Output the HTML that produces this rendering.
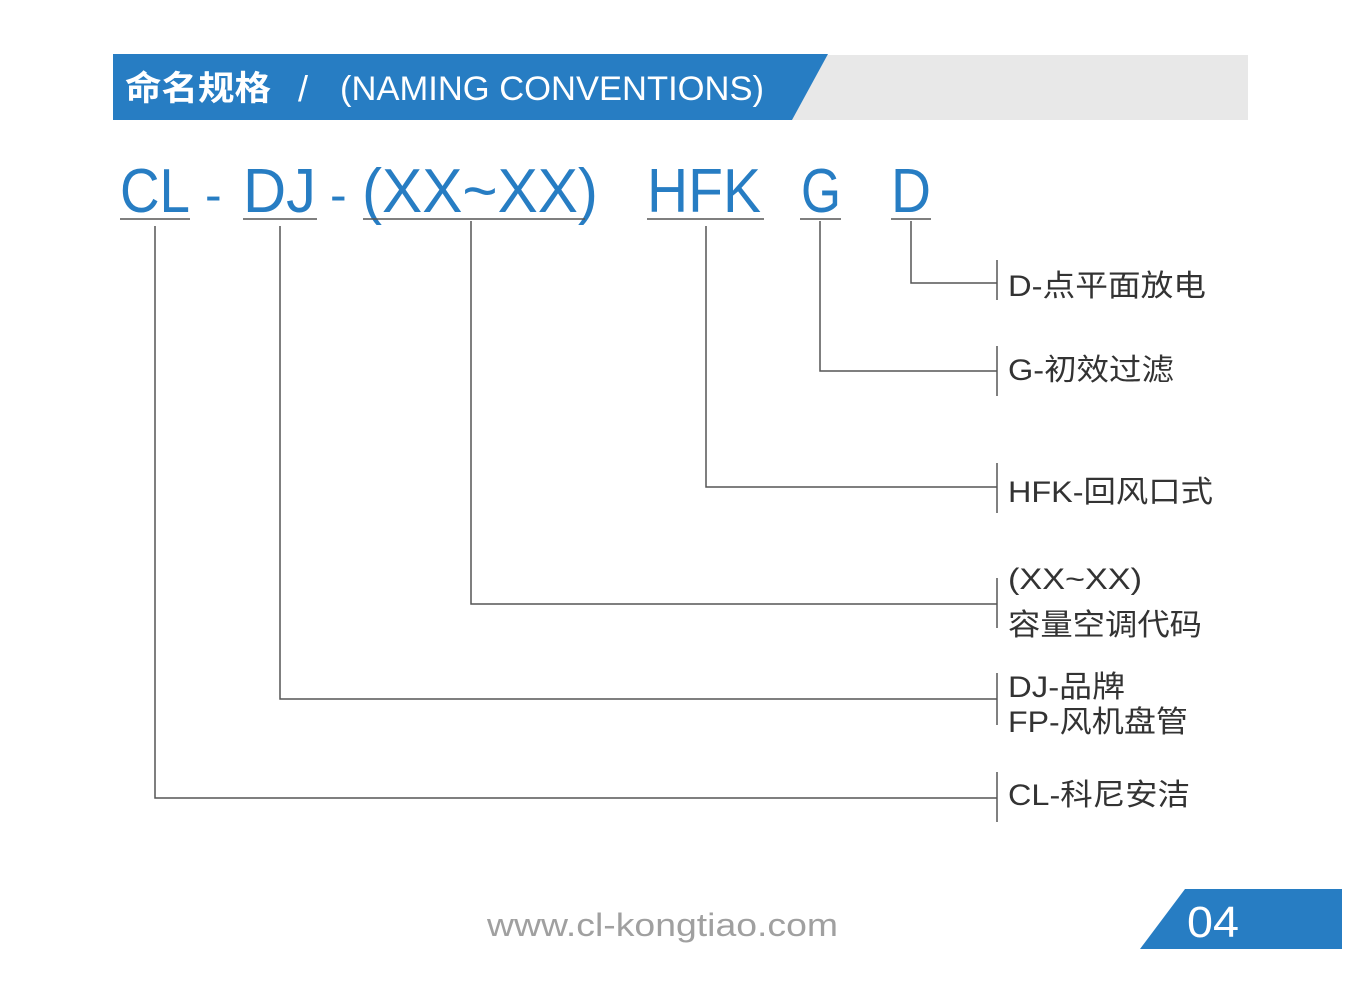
<!DOCTYPE html>
<html><head><meta charset="utf-8"><style>
html,body{margin:0;padding:0;background:#fff;}
svg{display:block;}
text{font-family:"Liberation Sans","Noto Sans CJK SC",sans-serif;}
</style></head><body>
<svg width="1361" height="1003" viewBox="0 0 1361 1003" xmlns="http://www.w3.org/2000/svg">
<rect x="790" y="55" width="458" height="65" fill="#e8e8e8"/>
<polygon points="113,54 828,54 792,120 113,120" fill="#277dc3"/>
<text x="125" y="100" font-size="34" fill="#fff" font-weight="bold" textLength="146" lengthAdjust="spacingAndGlyphs">命名规格</text>
<text x="298" y="101" font-size="36" fill="#fff" transform="skewX(0)">/</text>
<text x="340" y="100" font-size="34" fill="#fff" textLength="424" lengthAdjust="spacingAndGlyphs">(NAMING CONVENTIONS)</text>

<g fill="#277dc3" font-size="62">
<text x="120" y="212" textLength="70" lengthAdjust="spacingAndGlyphs">CL</text>
<text x="205" y="212" font-size="50">-</text>
<text x="243" y="212" textLength="73" lengthAdjust="spacingAndGlyphs">DJ</text>
<text x="330" y="212" font-size="50">-</text>
<text x="362" y="212" textLength="236" lengthAdjust="spacingAndGlyphs">(XX~XX)</text>
<text x="647" y="212" textLength="114" lengthAdjust="spacingAndGlyphs">HFK</text>
<text x="801" y="212" textLength="40" lengthAdjust="spacingAndGlyphs">G</text>
<text x="891" y="212" textLength="40" lengthAdjust="spacingAndGlyphs">D</text>
</g>

<g stroke="#555" stroke-width="1.5" fill="none">
<line x1="120" y1="219" x2="190" y2="219"/>
<line x1="243" y1="219" x2="317" y2="219"/>
<line x1="363" y1="219" x2="585" y2="219"/>
<line x1="647" y1="219" x2="764" y2="219"/>
<line x1="800" y1="219" x2="841" y2="219"/>
<line x1="891" y1="219" x2="931" y2="219"/>
<polyline points="155,226 155,798 997,798"/>
<polyline points="280,226 280,699 997,699"/>
<polyline points="471,221 471,604 997,604"/>
<polyline points="706,226 706,487 997,487"/>
<polyline points="820,221 820,371 997,371"/>
<polyline points="911,221 911,283 997,283"/>
<line x1="997" y1="260" x2="997" y2="300"/>
<line x1="997" y1="346" x2="997" y2="396"/>
<line x1="997" y1="463" x2="997" y2="513"/>
<line x1="997" y1="578" x2="997" y2="628"/>
<line x1="997" y1="673" x2="997" y2="725"/>
<line x1="997" y1="772" x2="997" y2="822"/>
</g>

<g fill="#333" font-size="30">
<text x="1008" y="296" textLength="198" lengthAdjust="spacingAndGlyphs">D-点平面放电</text>
<text x="1008" y="380" textLength="166" lengthAdjust="spacingAndGlyphs">G-初效过滤</text>
<text x="1008" y="502" textLength="205" lengthAdjust="spacingAndGlyphs">HFK-回风口式</text>
<text x="1008" y="589" textLength="134" lengthAdjust="spacingAndGlyphs">(XX~XX)</text>
<text x="1008" y="635" textLength="194" lengthAdjust="spacingAndGlyphs">容量空调代码</text>
<text x="1008" y="697" textLength="117" lengthAdjust="spacingAndGlyphs">DJ-品牌</text>
<text x="1008" y="732" textLength="180" lengthAdjust="spacingAndGlyphs">FP-风机盘管</text>
<text x="1008" y="805" textLength="182" lengthAdjust="spacingAndGlyphs">CL-科尼安洁</text>
</g>

<text x="487" y="936" font-size="32" fill="#a0a0a0" textLength="351" lengthAdjust="spacingAndGlyphs">www.cl-kongtiao.com</text>
<polygon points="1140,949 1185,889 1342,889 1342,949" fill="#277dc3"/>
<text x="1187" y="937" font-size="44" fill="#fff" textLength="52" lengthAdjust="spacingAndGlyphs">04</text>
</svg>
</body></html>
